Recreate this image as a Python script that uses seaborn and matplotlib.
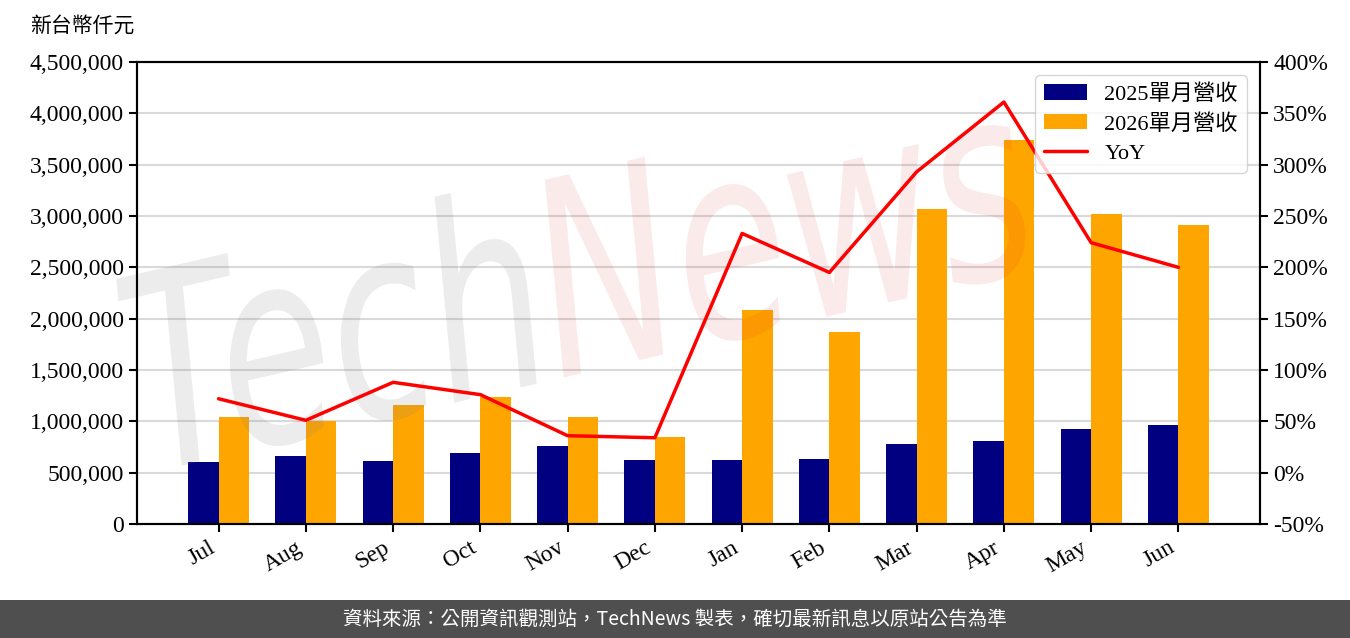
import matplotlib
matplotlib.use("Agg")
import matplotlib.pyplot as plt
import seaborn as sns
import pandas as pd
import numpy as np
from matplotlib.textpath import TextPath
from matplotlib.patches import PathPatch, Rectangle
from matplotlib.font_manager import FontProperties
from matplotlib.transforms import Affine2D, IdentityTransform
from matplotlib.ticker import FuncFormatter, MultipleLocator

# 資料
months = ["Jul", "Aug", "Sep", "Oct", "Nov", "Dec", "Jan", "Feb", "Mar", "Apr", "May", "Jun"]
rev_2025 = [604000, 662000, 614000, 692000, 760000, 623000, 623000, 633000, 779000, 808000, 925000, 964000]
rev_2026 = [1042000, 1003000, 1159000, 1237000, 1042000, 847000, 2084000, 1870000, 3068000, 3740000, 3019000, 2912000]
yoy = [72, 51, 88, 76, 36, 34, 233, 195, 293, 361, 224, 200]

label_2025 = "2025單月營收"
label_2026 = "2026單月營收"

df = pd.DataFrame({
    "month": months * 2,
    "rev": rev_2025 + rev_2026,
    "series": [label_2025] * len(months) + [label_2026] * len(months),
})

sns.set_style("ticks", rc={"axes.edgecolor": "black", "xtick.color": "black",
                           "ytick.color": "black", "text.color": "black",
                           "axes.labelcolor": "black"})
plt.rcParams["font.family"] = ["Liberation Serif", "Noto Sans CJK TC", "DejaVu Sans"]

fig = plt.figure(figsize=(13.5, 6.38), dpi=100)
ax = fig.add_axes([137 / 1350, 1 - 524 / 638, (1260 - 137) / 1350, (524 - 62) / 638])

sns.barplot(data=df, x="month", y="rev", hue="series", palette=["#000080", "#FFA500"],
            width=0.7, saturation=1, errorbar=None, linewidth=0, ax=ax, zorder=2)

ax.set_ylim(0, 4500000)
ax.yaxis.set_major_locator(MultipleLocator(500000))
ax.yaxis.set_major_formatter(FuncFormatter(lambda v, p: f"{v:,.0f}"))
ax.set_xlim(-0.935, 11.935)
ax.yaxis.grid(True, color="#d9d9d9", lw=1.5)
ax.set_axisbelow(True)
ax.set_xlabel("")
ax.set_ylabel("")
for s in ax.spines.values():
    s.set_linewidth(1.5)
ax.tick_params(axis="both", labelsize=17, length=6, width=1.5)
plt.setp(ax.get_xticklabels(), rotation=30, ha="right")

# YoY 線
ax2 = ax.twinx()
sns.lineplot(x=np.arange(len(months)), y=yoy, color="red", lw=2.5, ax=ax2, label="YoY", zorder=5)
ax2.set_ylim(-50, 400)
ax2.yaxis.set_major_locator(MultipleLocator(50))
ax2.yaxis.set_major_formatter(FuncFormatter(lambda v, p: f"{int(v)}%"))
ax2.tick_params(axis="y", labelsize=17, length=6, width=1.5)
ax2.set_ylabel("")
for s in ax2.spines.values():
    s.set_linewidth(1.5)

# 圖例
h1, l1 = ax.get_legend_handles_labels()
h2, l2 = ax2.get_legend_handles_labels()
ax.get_legend().remove()
ax2.legend(h1 + h2, l1 + l2, loc="upper right", fontsize=16, frameon=True,
           labelspacing=0.4, handlelength=1.9, edgecolor="#cccccc", framealpha=0.8,
           borderaxespad=0.6)

# 浮水印
wm_font = FontProperties(family="DejaVu Sans", weight="normal", style="oblique")
tp_tech = TextPath((0, 0), "Tech", size=1, prop=wm_font)
tp_news = TextPath((tp_tech.get_extents().x1 + 0.05, 0), "News", size=1, prop=wm_font)
wm_tr = Affine2D().scale(185, 270).rotate_deg(13).translate(150, 165)
for tp, col in [(tp_tech, (0.5, 0.5, 0.5, 0.15)), (tp_news, (0.85, 0.1, 0.1, 0.09))]:
    patch = PathPatch(wm_tr.transform_path(tp), facecolor=col, edgecolor="none",
                      transform=IdentityTransform(), zorder=10, clip_on=False)
    ax.add_artist(patch)

# 單位與頁尾
fig.text(30 / 1350, 1 - 27 / 638, "新台幣仟元", fontsize=15, va="center", ha="left")
fig.add_artist(Rectangle((0, 0), 1, 38 / 638, transform=fig.transFigure,
                         facecolor="#4f4f4f", edgecolor="none"))
fig.text(0.5, 19 / 638, "資料來源：公開資訊觀測站，TechNews 製表，確切最新訊息以原站公告為準",
         color="white", fontsize=14, ha="center", va="center", family=["Noto Sans CJK TC"])

fig.savefig("out.png", dpi=100)
